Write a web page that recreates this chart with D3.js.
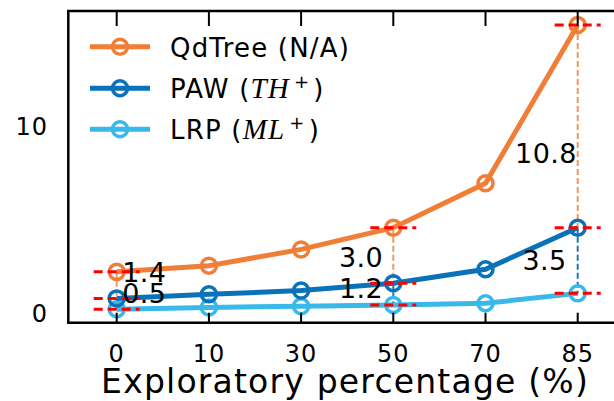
<html>
<script src="https://d3js.org/d3.v7.min.js"></script>
<style>
  body { margin: 0; background: white; }
  text { font-family: "DejaVu Sans", sans-serif; fill: black; }
</style>
<body>
<div id="chart"></div>
<script>
  // data
  var categories = ["0", "10", "30", "50", "70", "85"];
  var qdtree = [2.2, 2.53, 3.4, 4.56, 6.94, 15.4];
  var paw = [0.78, 1.0, 1.2, 1.59, 2.34, 4.56];
  var lrp = [0.2, 0.3, 0.36, 0.43, 0.52, 1.05];
  var yTicks = [0, 10];

  // gaps that are marked with red dashes
  var gapIndex = [0, 3, 5];
  var annoLabels = ["1.4", "0.5", "3.0", "1.2", "10.8", "3.5"];
  var annoX = [0.06, 0.06, 2.89, 2.89, 4.99, 4.88];
  var annoY = [1.67, 0.53, 2.48, 0.8, 8.02, 2.3];
  var annoAnchor = ["start", "start", "end", "end", "end", "end"];

  var series = [
    { name: "QdTree", values: qdtree, color: "#f07e36" },
    { name: "PAW", values: paw, color: "#0a72b8" },
    { name: "LRP", values: lrp, color: "#38b9ea" }
  ];

  var W = 614, H = 401;
  var x = d3.scaleLinear().domain([0, 5]).range([116.7, 577.7]);
  var y = d3.scaleLinear().domain([0, 10]).range([313, 126]);
  var frameL = x(-0.525), frameR = x(5.5), frameT = y(16.15), frameB = y(-0.52);

  var svg = d3.select("#chart").append("svg")
    .attr("width", W).attr("height", H);

  // vertical dashed gaps
  gapIndex.forEach(function (i) {
    svg.append("line")
      .attr("x1", x(i)).attr("x2", x(i))
      .attr("y1", y(qdtree[i])).attr("y2", y(paw[i]))
      .attr("stroke", "#f07e36").attr("stroke-opacity", 0.8)
      .attr("stroke-width", 2).attr("stroke-dasharray", "6,3");
    svg.append("line")
      .attr("x1", x(i)).attr("x2", x(i))
      .attr("y1", y(paw[i])).attr("y2", y(lrp[i]))
      .attr("stroke", "#1f77b4").attr("stroke-width", 2)
      .attr("stroke-dasharray", "6,3");
  });

  var line = d3.line()
    .x(function (d, i) { return x(i); })
    .y(function (d) { return y(d); });

  series.slice().reverse().forEach(function (s) {
    svg.append("path")
      .datum(s.values)
      .attr("d", line)
      .attr("fill", "none")
      .attr("stroke", s.color)
      .attr("stroke-width", 5);
    svg.selectAll(null)
      .data(s.values)
      .enter()
      .append("circle")
      .attr("cx", function (d, i) { return x(i); })
      .attr("cy", function (d) { return y(d); })
      .attr("r", 7.5)
      .attr("fill", "none")
      .attr("stroke", s.color)
      .attr("stroke-width", 3.5);
  });

  // red horizontal dashes
  gapIndex.forEach(function (i) {
    [qdtree[i], paw[i], lrp[i]].forEach(function (v) {
      svg.append("line")
        .attr("x1", x(i) - 23).attr("x2", x(i) + 23)
        .attr("y1", y(v)).attr("y2", y(v))
        .attr("stroke", "red").attr("stroke-width", 3)
        .attr("stroke-dasharray", "9,5");
    });
  });

  // gap labels
  annoLabels.forEach(function (t, k) {
    svg.append("text")
      .attr("x", x(annoX[k])).attr("y", y(annoY[k]))
      .attr("text-anchor", annoAnchor[k])
      .style("font-size", "27px")
      .style("letter-spacing", "0.4px")
      .text(t);
  });

  // frame and ticks
  svg.append("rect")
    .attr("x", frameL).attr("y", frameT)
    .attr("width", frameR - frameL).attr("height", frameB - frameT)
    .attr("fill", "none").attr("stroke", "black").attr("stroke-width", 2.5);

  categories.forEach(function (c, i) {
    svg.append("line")
      .attr("x1", x(i)).attr("x2", x(i))
      .attr("y1", frameB).attr("y2", frameB - 10)
      .attr("stroke", "black").attr("stroke-width", 2);
    svg.append("line")
      .attr("x1", x(i)).attr("x2", x(i))
      .attr("y1", frameT).attr("y2", frameT + 15)
      .attr("stroke", "black").attr("stroke-width", 2);
    svg.append("text")
      .attr("x", x(i)).attr("y", 362)
      .attr("text-anchor", "middle")
      .style("font-size", "24px")
      .style("letter-spacing", "1px")
      .text(c);
  });

  yTicks.forEach(function (v) {
    svg.append("text")
      .attr("x", 48).attr("y", y(v))
      .attr("dy", "0.36em")
      .attr("text-anchor", "end")
      .style("font-size", "24px")
      .style("letter-spacing", "1px")
      .text(v);
  });

  svg.append("text")
    .attr("x", (frameL + frameR) / 2 - 1).attr("y", 393)
    .attr("text-anchor", "middle")
    .style("font-size", "33px")
    .style("letter-spacing", "1.2px")
    .text("Exploratory percentage (%)");

  // legend
  var legendY = [46.7, 88.3, 129.3];
  series.forEach(function (s, k) {
    var g = svg.append("g").attr("transform", "translate(0," + legendY[k] + ")");
    g.append("line").attr("x1", 90).attr("x2", 150)
      .attr("stroke", s.color).attr("stroke-width", 5);
    g.append("circle").attr("cx", 120).attr("r", 7.5)
      .attr("fill", "none").attr("stroke", s.color).attr("stroke-width", 3.5);
    var t = g.append("text").attr("x", 170).attr("y", 10)
      .style("font-size", "26px")
      .style("letter-spacing", "1.2px");
    if (k == 0) {
      t.text("QdTree (N/A)");
    } else {
      t.append("tspan").text(k == 1 ? "PAW (" : "LRP (");
      t.append("tspan").style("font-family", "'Liberation Serif', serif")
        .style("font-style", "italic").style("font-size", "29px")
        .text(k == 1 ? "TH" : "ML");
      t.append("tspan").attr("dx", 4).attr("dy", -10).style("font-size", "18px").text("+");
      t.append("tspan").attr("dx", 3).attr("dy", 10).text(")");
    }
  });
</script>
</body>
</html>
